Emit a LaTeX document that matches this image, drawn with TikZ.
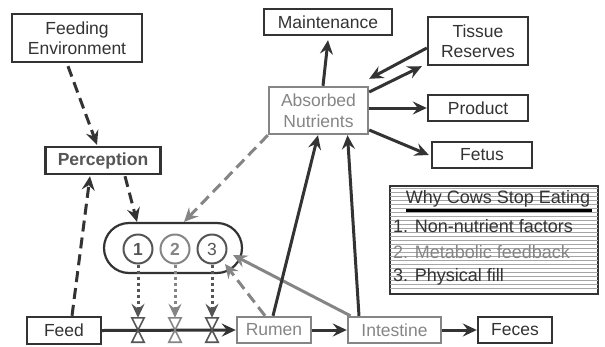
\documentclass[tikz,border=0pt]{standalone}
\usepackage{fontspec}
\setmainfont{Liberation Sans}
\usetikzlibrary{arrows.meta,calc}
\definecolor{dk}{HTML}{333333}
\definecolor{gr}{HTML}{858585}
\definecolor{md}{HTML}{555555}
\begin{document}
\begin{tikzpicture}[x=1pt,y=-1pt,
  every node/.style={font=\fontsize{17.5}{20.5}\selectfont},
  box/.style={draw=dk,line width=2.4pt,text=dk,inner sep=0pt,align=center},
  gbox/.style={draw=gr,line width=2.4pt,text=gr,inner sep=0pt,align=center},
  tip/.style={-{Stealth[length=14pt,width=13pt,inset=5pt]}},
  solidarr/.style={tip,line width=3pt,draw=dk},
  gsolidarr/.style={tip,line width=3pt,draw=gr},
  dasharr/.style={tip,line width=3pt,draw=dk,dash pattern=on 11pt off 6pt},
  gdasharr/.style={tip,line width=3pt,draw=gr,dash pattern=on 11pt off 6pt},
  dotarr/.style={tip,line width=3pt,dash pattern=on 3pt off 3pt},
  circ/.style={circle,draw,line width=2pt,minimum size=29pt,inner sep=0pt},
  valve/.style={minimum width=12pt,minimum height=24pt,inner sep=0pt},
]
\useasboundingbox (0,0) rectangle (605,346);

% nodes
\node[box,minimum width=130pt,minimum height=48pt] (fe) at (77,38) {Feeding\\Environment};
\node[box,minimum width=115pt,minimum height=27pt,font=\fontsize{17.5}{20.5}\selectfont\bfseries,text=md] (perc) at (103,160.5) {Perception};
\node[box,minimum width=128pt,minimum height=26pt] (maint) at (328,22) {Maintenance};
\node[gbox,minimum width=99pt,minimum height=47pt] (an) at (318.5,110.5) {Absorbed\\Nutrients};
\node[box,minimum width=100pt,minimum height=48pt] (tr) at (478,41) {Tissue\\Reserves};
\node[box,minimum width=100pt,minimum height=26pt] (prod) at (478,108) {Product};
\node[box,minimum width=100pt,minimum height=26pt] (fetus) at (482,155) {Fetus};
\node[box,minimum width=74pt,minimum height=27pt] (feed) at (64,330.5) {Feed};
\node[gbox,minimum width=74pt,minimum height=26pt] (rumen) at (274,330) {Rumen};
\node[gbox,minimum width=93pt,minimum height=26pt] (int) at (394.5,330) {Intestine};
\node[box,minimum width=74pt,minimum height=26pt] (feces) at (515,330) {Feces};

\node[draw=dk,line width=2.2pt,rounded corners=25pt,minimum width=138pt,minimum height=50pt] (oval) at (173,248) {};
\node[circ,draw=md,text=md,font=\fontsize{17.5}{20.5}\selectfont\bfseries] (c1) at (138,249) {1};
\node[circ,draw=gr,text=gr,font=\fontsize{17.5}{20.5}\selectfont\bfseries] (c2) at (175,249) {2};
\node[circ,draw=md,text=md] (c3) at (212,249) {3};

\node[valve] (v1) at (138,330) {};
\node[valve] (v2) at (175,330) {};
\node[valve] (v3) at (212,330) {};

% legend
\node[draw=dk,line width=2.8pt,minimum width=208pt,minimum height=108pt,inner sep=0pt] (leg) at (494,240) {};
\foreach \yy in {190,194,...,290} {
  \draw[gray!70,line width=0.9pt] ($(leg.north west)+(1.4,\yy-186)$) -- ($(leg.north east)+(-1.4,\yy-186)$);
}
\node[text=dk,inner sep=0pt,font=\fontsize{18}{21}\selectfont] (lt) at (498,199) {Why Cows Stop Eating};
\draw[line width=2.4pt,draw=black] ($(lt.south west)+(0,3)$) -- ($(lt.south east)+(2,3)$);
\node[text=dk,inner sep=0pt,anchor=west,font=\fontsize{18}{21}\selectfont] (l1) at (393,226) {1. Non-nutrient factors};
\node[text=gr,inner sep=0pt,anchor=west,font=\fontsize{18}{21}\selectfont] (l2) at (393,252) {2. Metabolic feedback};
\node[text=dk,inner sep=0pt,anchor=west,font=\fontsize{18}{21}\selectfont] (l3) at (393,277) {3. Physical fill};

% main flow
\draw[solidarr] (feed.east) -- (rumen.west);
\draw[solidarr] (rumen.east) -- (int.west);
\draw[solidarr] (int.east) -- (feces.west);

\foreach \v/\c in {v1/md,v2/gr,v3/md} {
  \draw[draw=\c,fill=white,line width=1.6pt,line join=miter]
    (\v.north west) -- (\v.north east) -- (\v.south west) -- (\v.south east) -- cycle;
}

% dotted
\draw[dotarr,draw=md] (c1.south) -- (v1.north);
\draw[dotarr,draw=gr] (c2.south) -- (v2.north);
\draw[dotarr,draw=md] (c3.south) -- (v3.north);

% dashed
\draw[dasharr] ($(fe.south)+(-9,3)$) -- ($(perc.north)+(-6,-1)$);
\draw[dasharr] ($(feed.north)+(8,0)$) -- ($(perc.south)+(-13,1)$);
\draw[dasharr] ($(perc.south)+(22,1)$) -- ($(oval.north)+(-36,0)$);
\draw[gdasharr] (an.south west) -- ($(oval.north)+(11,0)$);
\draw[gdasharr] ($(rumen.north)+(-9,0)$) -- ($(c3)+(13,15)$);
\draw[gsolidarr] ($(int.north)+(-44,0)$) -- ($(c3)+(21,6)$);

% to absorbed nutrients
\draw[solidarr] ($(rumen.north)+(-1,0)$) -- ($(an.south)+(-0.5,0)$);
\draw[solidarr] ($(int.north)+(-35.5,0)$) -- ($(an.south)+(29,0)$);

% from absorbed nutrients
\draw[solidarr] ($(an.north)+(4.5,0)$) -- ($(maint.south)+(0,4)$);
\draw[solidarr] ($(tr.west)+(0,7)$) -- ($(an.north east)+(0,-7)$);
\draw[solidarr] ($(an.east)+(0,-18.5)$) -- ($(tr.south west)+(-5,0)$);
\draw[solidarr] ($(an.east)+(0,-2.5)$) -- (prod.west);
\draw[solidarr] ($(an.east)+(0,19.5)$) -- ($(fetus.west)+(-2,0)$);
\end{tikzpicture}
\end{document}
